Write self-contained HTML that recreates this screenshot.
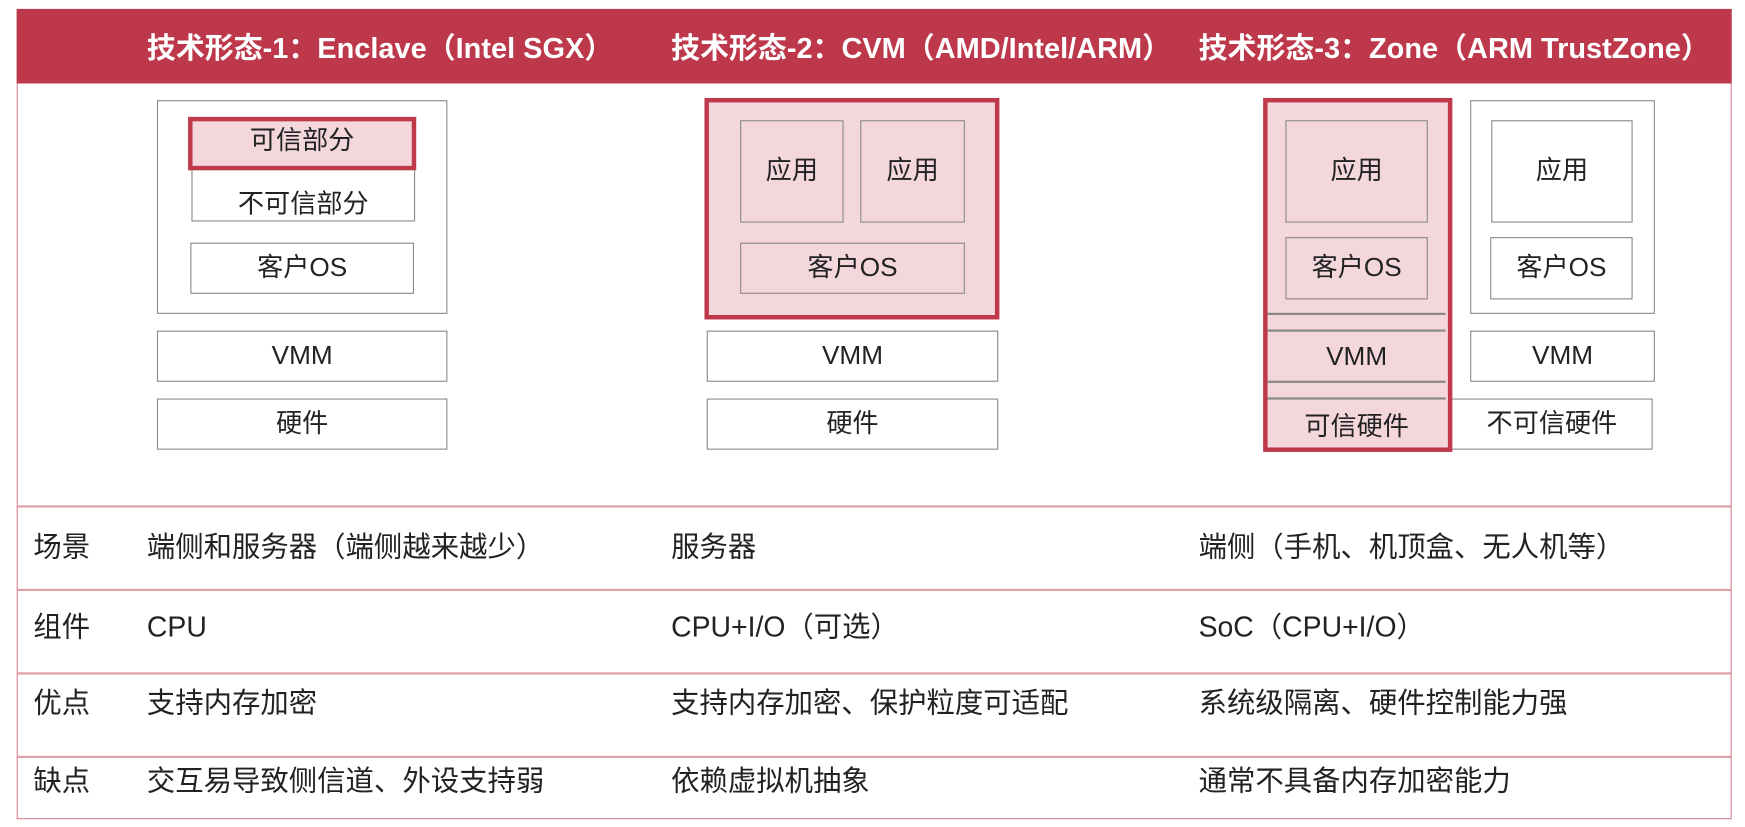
<!DOCTYPE html>
<html><head><meta charset="utf-8"><style>
html,body{margin:0;padding:0;background:#fff;width:1745px;height:827px;overflow:hidden}
#w{position:absolute;left:0;top:0;width:1568px;height:743px;transform:scale(1.1129,1.1131);transform-origin:0 0;font-family:"Liberation Sans","Noto Sans CJK SC",sans-serif;color:#222}
.a{position:absolute;box-sizing:border-box}
.b{border:1.5px solid #8a8a8a;background:#fff;display:flex;align-items:center;justify-content:center;font-size:23.5px;line-height:1}
.p{background:#f3d7dc}
.r{border:4px solid #c0394b;background:#f3d7dc}
.h{color:#fff;font-weight:bold;font-size:26px;line-height:26px;top:30px;white-space:nowrap}
.t{font-size:25.5px;line-height:26px;white-space:nowrap}
.ln{height:2px;background:#e0a0aa;left:15px;width:1540px}
.tl{height:1.5px;background:#8a8a8a;left:1139px;width:160px}
</style></head><body><div id="w">
<div class="a" style="left:15px;top:8px;width:1541px;height:728px;border:1.5px solid #d9808e;border-top:none"></div>
<div class="a" style="left:15px;top:8px;width:1541px;height:67px;background:#bd384b"></div>
<div class="a h" style="left:132px">技术形态-1：Enclave（Intel SGX）</div>
<div class="a h" style="left:603px">技术形态-2：CVM（AMD/Intel/ARM）</div>
<div class="a h" style="left:1077px">技术形态-3：Zone（ARM TrustZone）</div>

<!-- col1 -->
<div class="a b" style="left:141px;top:90px;width:261px;height:192px"></div>
<div class="a b" style="left:172px;top:150px;width:201px;height:49px;align-items:flex-end;padding-bottom:3px">不可信部分</div>
<div class="a b r" style="left:169px;top:105px;width:205px;height:48px;padding-bottom:4px">可信部分</div>
<div class="a b" style="left:171px;top:218px;width:201px;height:46px">客户OS</div>
<div class="a b" style="left:141px;top:297px;width:261px;height:46px">VMM</div>
<div class="a b" style="left:141px;top:358px;width:261px;height:46px">硬件</div>

<!-- col2 -->
<div class="a r" style="left:633px;top:88px;width:265px;height:199px"></div>
<div class="a b p" style="left:665px;top:108px;width:93px;height:92px">应用</div>
<div class="a b p" style="left:773px;top:108px;width:94px;height:92px">应用</div>
<div class="a b p" style="left:665px;top:218px;width:202px;height:46px">客户OS</div>
<div class="a b" style="left:635px;top:297px;width:262px;height:46px">VMM</div>
<div class="a b" style="left:635px;top:358px;width:262px;height:46px">硬件</div>

<!-- col3 -->
<div class="a b" style="left:1300px;top:358px;width:185px;height:46px;padding-left:4px">不可信硬件</div>
<div class="a r" style="left:1135px;top:88px;width:170px;height:318px"></div>
<div class="a b p" style="left:1155px;top:108px;width:128px;height:92px">应用</div>
<div class="a b p" style="left:1155px;top:213px;width:128px;height:56px">客户OS</div>
<div class="a tl" style="top:281px"></div>
<div class="a tl" style="top:296px"></div>
<div class="a tl" style="top:342px"></div>
<div class="a tl" style="top:357px"></div>
<div class="a" style="left:1139px;top:308px;width:160px;text-align:center;font-size:23.5px;line-height:24px">VMM</div>
<div class="a" style="left:1139px;top:371px;width:160px;text-align:center;font-size:23.5px;line-height:24px">可信硬件</div>
<div class="a b" style="left:1321px;top:90px;width:166px;height:192px"></div>
<div class="a b" style="left:1340px;top:108px;width:127px;height:92px">应用</div>
<div class="a b" style="left:1339px;top:213px;width:128px;height:56px">客户OS</div>
<div class="a b" style="left:1321px;top:297px;width:166px;height:46px">VMM</div>

<!-- table -->
<div class="a ln" style="top:454px"></div>
<div class="a ln" style="top:529px"></div>
<div class="a ln" style="top:604px"></div>
<div class="a ln" style="top:679px"></div>

<div class="a t" style="left:30px;top:479px">场景</div>
<div class="a t" style="left:132px;top:479px">端侧和服务器（端侧越来越少）</div>
<div class="a t" style="left:603px;top:479px">服务器</div>
<div class="a t" style="left:1077px;top:479px">端侧（手机、机顶盒、无人机等）</div>

<div class="a t" style="left:30px;top:551px">组件</div>
<div class="a t" style="left:132px;top:551px">CPU</div>
<div class="a t" style="left:603px;top:551px">CPU+I/O（可选）</div>
<div class="a t" style="left:1077px;top:551px">SoC（CPU+I/O）</div>

<div class="a t" style="left:30px;top:619px">优点</div>
<div class="a t" style="left:132px;top:619px">支持内存加密</div>
<div class="a t" style="left:603px;top:619px">支持内存加密、保护粒度可适配</div>
<div class="a t" style="left:1077px;top:619px">系统级隔离、硬件控制能力强</div>

<div class="a t" style="left:30px;top:689px">缺点</div>
<div class="a t" style="left:132px;top:689px">交互易导致侧信道、外设支持弱</div>
<div class="a t" style="left:603px;top:689px">依赖虚拟机抽象</div>
<div class="a t" style="left:1077px;top:689px">通常不具备内存加密能力</div>
</div></body></html>
